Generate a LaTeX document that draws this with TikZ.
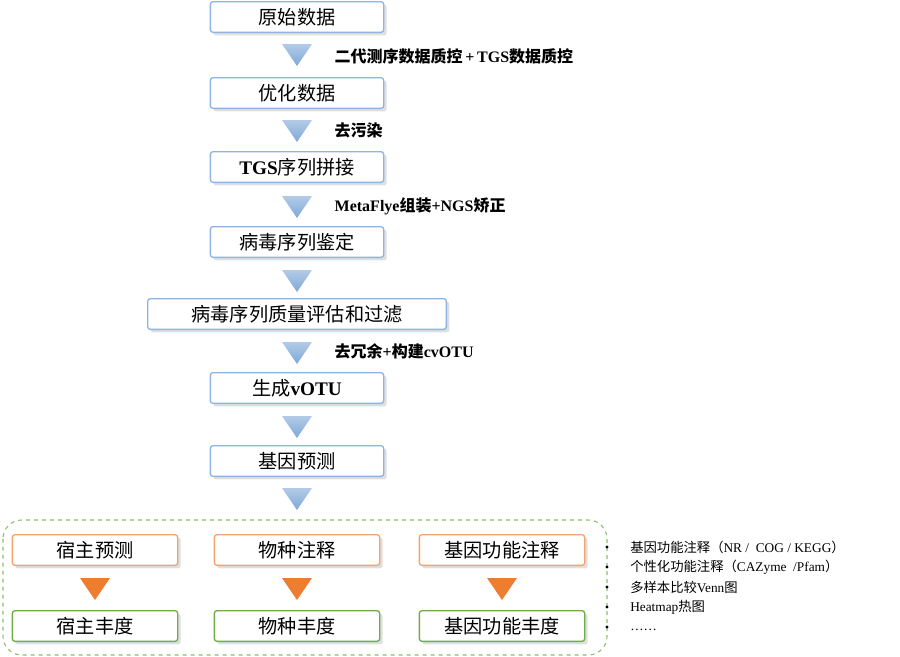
\documentclass[tikz,border=0pt]{standalone}
\usepackage{fontspec}
\setmainfont{Liberation Serif}
\newfontfamily\cjk{Noto Sans CJK SC}
\usetikzlibrary{shadows}
\definecolor{boxblue}{HTML}{8EB4E3}
\definecolor{triblue}{HTML}{7FA8D8}
\definecolor{orng}{HTML}{ED7D31}
\definecolor{grn}{HTML}{70AD47}
\newcommand{\bluetri}[1]{\shade[top color=triblue!60, bottom color=triblue] (282,#1) -- (312,#1) -- (297,#1+22) -- cycle;}
\newcommand{\orangetri}[1]{\fill[orng] (#1-15,578) -- (#1+15,578) -- (#1,600) -- cycle;}
\newcommand{\lat}[1]{{\rmfamily\bfseries #1}}

\begin{document}
\begin{tikzpicture}[x=0.75pt, y=-0.75pt,
	stepbox/.style={draw=boxblue, line width=1pt, rounded corners=2pt, fill=white, drop shadow={opacity=0.25}, font=\cjk\Large},
	orbox/.style={draw=orng!70, line width=1pt, rounded corners=2pt, fill=white, drop shadow={opacity=0.25}, font=\cjk\Large},
	grbox/.style={draw=grn, line width=1pt, rounded corners=2pt, fill=white, drop shadow={opacity=0.25}, font=\cjk\Large},
	lbl/.style={anchor=west, font=\cjk\large\bfseries},
	note/.style={anchor=west, font=\cjk, inner sep=0pt}]
	\useasboundingbox (0,0) rectangle (900,657);
	% main flow
	\node[stepbox, minimum width=130pt, minimum height=23pt] (raw) at (297,17) {原始数据};
	\node[stepbox, minimum width=130pt, minimum height=23pt] (clean) at (297,93) {优化数据};
	\node[stepbox, minimum width=130pt, minimum height=23pt] (asm) at (297,167) {\lat{TGS}序列拼接};
	\node[stepbox, minimum width=130pt, minimum height=23pt] (ident) at (297,242) {病毒序列鉴定};
	\node[stepbox, minimum width=224pt, minimum height=23pt] (qc) at (297,314) {病毒序列质量评估和过滤};
	\node[stepbox, minimum width=130pt, minimum height=23pt] (votu) at (297,388) {生成\lat{vOTU}};
	\node[stepbox, minimum width=130pt, minimum height=23pt] (gene) at (297,461) {基因预测};
	\bluetri{44}
	\bluetri{120}
	\bluetri{196}
	\bluetri{270}
	\bluetri{342}
	\bluetri{416}
	\bluetri{488}
	\node[lbl] (l1) at (330,56) {二代测序数据质控\,\lat{+\,TGS}数据质控};
	\node[lbl] (l2) at (330,130) {去污染};
	\node[lbl] (l3) at (330,206) {\lat{MetaFlye}组装\lat{+NGS}矫正};
	\node[lbl] (l4) at (330,351) {去冗余\lat{+}构建\lat{cvOTU}};
	% downstream group
	\draw[grn!80, dashed, line width=0.8pt, rounded corners=14pt] (3,520) rectangle (607,655);
	\node[orbox, minimum width=124pt, minimum height=23pt] (host) at (95,550) {宿主预测};
	\node[orbox, minimum width=124pt, minimum height=23pt] (taxa) at (297,550) {物种注释};
	\node[orbox, minimum width=124pt, minimum height=23pt] (func) at (502,550) {基因功能注释};
	\orangetri{95}
	\orangetri{297}
	\orangetri{502}
	\node[grbox, minimum width=124pt, minimum height=23pt] (hab) at (95,626) {宿主丰度};
	\node[grbox, minimum width=124pt, minimum height=23pt] (tab) at (297,626) {物种丰度};
	\node[grbox, minimum width=124pt, minimum height=23pt] (fab) at (502,626) {基因功能丰度};
	% notes
	\foreach \y in {547,567,587,607,627} \fill (607,\y) circle (1.6);
	\node[note] (n1) at (630,547) {基因功能注释（{\rmfamily NR /\ \ COG / KEGG}）};
	\node[note] (n2) at (630,567) {个性化功能注释（{\rmfamily CAZyme\ \ /Pfam}）};
	\node[note] (n3) at (630,587) {多样本比较{\rmfamily Venn}图};
	\node[note] (n4) at (630,607) {{\rmfamily Heatmap}热图};
	\node[note] (n5) at (630,630) {{\rmfamily ……}};
\end{tikzpicture}
\end{document}
